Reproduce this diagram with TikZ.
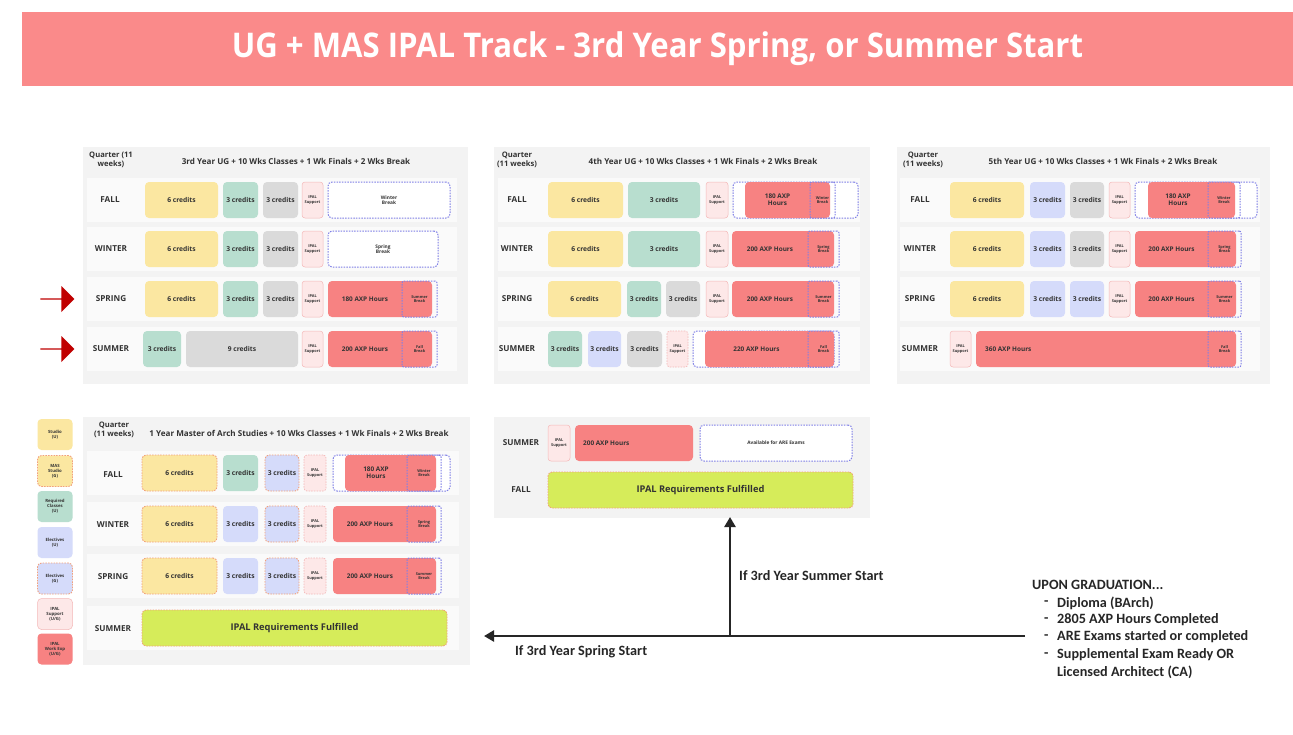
\documentclass[tikz,border=0pt]{standalone}
\usepackage{fontspec}
\setmainfont{Open Sans}
\newfontfamily\calfont{Carlito}
\usetikzlibrary{arrows.meta,shapes.arrows}
\definecolor{cyel}{HTML}{FBE7A1}
\definecolor{cteal}{HTML}{B8DECF}
\definecolor{cgrey}{HTML}{DADADA}
\definecolor{cpink}{HTML}{FDE8E8}
\definecolor{cpinkb}{HTML}{F4B8B8}
\definecolor{cred}{HTML}{F78282}
\definecolor{cblue}{HTML}{D5DBFA}
\definecolor{clime}{HTML}{D6EC5A}
\definecolor{cdash}{HTML}{7F7FE6}
\definecolor{corg}{HTML}{F2A07C}
\definecolor{cpanel}{HTML}{F3F3F3}
\definecolor{ctitle}{HTML}{FA8A8A}
\definecolor{carrow}{HTML}{C00000}
\definecolor{ctxt}{HTML}{333333}
\newcommand\bx[6]{\node[#4,minimum width={(#2-#1)*1pt}] (#6) at ({(#1+#2)/2},#3) {#5};}
% red AXP box: x1, x2, overlay start, y, hours, break text, name
\newcommand\ax[7]{%
  \bx{#1}{#2}{#4}{redb}{}{#7}
  \node[ctext] (#7t) at ({(#1+#3)/2},#4) {#5};
  \bx{#3}{#2+5}{#4}{ovl}{#6}{#7o}}
\begin{document}
\begin{tikzpicture}[x=1pt,y=-1pt,
  cell/.style={rounded corners=4pt,minimum height=36pt,inner sep=1pt,
    font=\fontsize{6.7}{7.6}\selectfont\bfseries,text=ctxt,align=center},
  ctext/.style={font=\fontsize{6.4}{7.3}\selectfont\bfseries,text=ctxt,align=center,inner sep=1pt},
  yel/.style={cell,fill=cyel},
  mas/.style={cell,fill=cyel,draw=corg,dash pattern=on 1.5pt off 1.2pt,line width=0.9pt},
  tea/.style={cell,fill=cteal},
  gry/.style={cell,fill=cgrey},
  blu/.style={cell,fill=cblue},
  blud/.style={cell,fill=cblue,draw=corg,dash pattern=on 1.5pt off 1.2pt,line width=0.9pt},
  small/.style={font=\fontsize{3.9}{4.6}\selectfont\bfseries},
  pnk/.style={cell,small,fill=cpink,draw=cpinkb,line width=0.5pt,rounded corners=3pt},
  pnkd/.style={cell,small,fill=cpink,draw=cpinkb,dash pattern=on 1.5pt off 1.2pt,line width=0.7pt,rounded corners=3pt},
  redb/.style={cell,fill=cred},
  brk/.style={cell,fill=white,draw=cdash,dash pattern=on 1.5pt off 1.2pt,line width=1pt,
    font=\fontsize{4.8}{5.6}\selectfont\bfseries},
  ovl/.style={cell,small,draw=cdash,dash pattern=on 1.5pt off 1.2pt,line width=1pt,rounded corners=2pt},
  lime/.style={cell,fill=clime,draw=corg,dash pattern=on 1.5pt off 1.2pt,line width=0.9pt,
    font=\fontsize{9.3}{10}\selectfont\bfseries},
  panel/.style={fill=cpanel,inner sep=0pt},
  band/.style={fill=white!60!cpanel,inner sep=0pt,minimum height=44pt},
  hdr/.style={font=\fontsize{8.1}{9}\selectfont\bfseries,text=ctxt},
  qtr/.style={font=\fontsize{7.6}{8.6}\selectfont\bfseries,text=ctxt,align=center},
  rl/.style={font=\fontsize{8.2}{9}\selectfont\bfseries,text=ctxt},
  leg/.style={cell,minimum height=31pt,minimum width=35pt,font=\fontsize{4.3}{5}\selectfont\bfseries},
  flow/.style={line width=2.6pt,draw=black!85,-{Triangle[length=10pt,width=11pt]}},
  note/.style={font=\calfont\bfseries\fontsize{14.2}{16}\selectfont,text=black!85,anchor=west,inner sep=0pt},
  redarrow/.style={single arrow,fill=carrow,minimum height=34pt,minimum width=26pt,
    single arrow head extend=4pt,single arrow tip angle=90,inner sep=0pt}]
\useasboundingbox (0,0) rectangle (1293,734);
\fill[white] (0,0) rectangle (1293,734);
% title
\node[fill=ctitle,minimum width=1271pt,minimum height=74pt,inner sep=0pt] (title) at (657.5,49) {};
\node[font=\fontsize{34}{38}\selectfont\bfseries,text=white] (titletxt) at (657.5,49)
  {\scalebox{0.915}[1]{UG + MAS IPAL Track - 3rd Year Spring, or Summer Start}};
% panels
\node[panel,minimum width=385pt,minimum height=237pt] (P1) at (275.5,265.5) {};
\node[panel,minimum width=376pt,minimum height=237pt] (P2) at (682,265.5) {};
\node[panel,minimum width=373pt,minimum height=237pt] (P3) at (1083.5,265.5) {};
\node[panel,minimum width=387pt,minimum height=248pt] (P4) at (276.5,541) {};
\node[panel,minimum width=376pt,minimum height=101pt] (P5) at (682,467.5) {};
% bands
\foreach \y [count=\i] in {200,249,299,349}{
  \node[band,minimum width=370pt] (b1\i) at (272,\y) {};
  \node[band,minimum width=362pt] (b2\i) at (679,\y) {};
  \node[band,minimum width=360pt] (b3\i) at (1080,\y) {};}
\foreach \y [count=\i] in {473,524,576,628}{
  \node[band,minimum width=372pt] (b4\i) at (273,\y) {};}
% ---------- Panel 1 : 3rd year ----------
\node[qtr] (q1) at (111,160) {Quarter (11\\weeks)};
\node[hdr] (h1) at (296,161) {3rd Year UG + 10 Wks Classes + 1 Wk Finals + 2 Wks Break};
\node[rl] (l11) at (110,200) {FALL};
\node[rl] (l12) at (111,249) {WINTER};
\node[rl] (l13) at (111,299) {SPRING};
\node[rl] (l14) at (111,349) {SUMMER};
\bx{145}{218}{200}{yel}{6 credits}{a11}
\bx{223}{258}{200}{tea}{3 credits}{a12}
\bx{263}{298}{200}{gry}{3 credits}{a13}
\bx{302}{323}{200}{pnk}{IPAL\\Support}{a14}
\bx{328}{450}{200}{brk}{Winter\\Break}{a15}
\bx{145}{218}{249}{yel}{6 credits}{a21}
\bx{223}{258}{249}{tea}{3 credits}{a22}
\bx{263}{298}{249}{gry}{3 credits}{a23}
\bx{302}{323}{249}{pnk}{IPAL\\Support}{a24}
\bx{328}{438}{249}{brk}{Spring\\Break}{a25}
\bx{145}{218}{299}{yel}{6 credits}{a31}
\bx{223}{258}{299}{tea}{3 credits}{a32}
\bx{263}{298}{299}{gry}{3 credits}{a33}
\bx{302}{323}{299}{pnk}{IPAL\\Support}{a34}
\ax{328}{432}{402}{299}{180 AXP Hours}{Summer\\Break}{a35}
\bx{143}{181}{349}{tea}{3 credits}{a41}
\bx{186}{298}{349}{gry}{9 credits}{a42}
\bx{302}{323}{349}{pnk}{IPAL\\Support}{a43}
\ax{328}{432}{402}{349}{200 AXP Hours}{Fall\\Break}{a44}
\node[redarrow] (ra1) at (57,299) {};
\node[redarrow] (ra2) at (57,349) {};
% ---------- Panel 2 : 4th year ----------
\node[qtr] (q2) at (517,160) {Quarter\\(11 weeks)};
\node[hdr] (h2) at (703,161) {4th Year UG + 10 Wks Classes + 1 Wk Finals + 2 Wks Break};
\node[rl] (l21) at (517,200) {FALL};
\node[rl] (l22) at (517,249) {WINTER};
\node[rl] (l23) at (517,299) {SPRING};
\node[rl] (l24) at (517,349) {SUMMER};
\bx{548}{623}{200}{yel}{6 credits}{c11}
\bx{628}{700}{200}{tea}{3 credits}{c12}
\bx{706}{728}{200}{pnk}{IPAL\\Support}{c13}
\bx{733}{858}{200}{brk}{}{c14}
\ax{745}{830}{810}{200}{180 AXP\\Hours}{Winter\\Break}{c15}
\bx{548}{623}{249}{yel}{6 credits}{c21}
\bx{628}{700}{249}{tea}{3 credits}{c22}
\bx{706}{728}{249}{pnk}{IPAL\\Support}{c23}
\ax{732}{834}{808}{249}{200 AXP Hours}{Spring\\Break}{c24}
\bx{548}{621}{299}{yel}{6 credits}{c31}
\bx{627}{661}{299}{tea}{3 credits}{c32}
\bx{666}{700}{299}{gry}{3 credits}{c33}
\bx{706}{728}{299}{pnk}{IPAL\\Support}{c34}
\ax{732}{834}{808}{299}{200 AXP Hours}{Summer\\Break}{c35}
\bx{548}{582}{349}{tea}{3 credits}{c41}
\bx{588}{621}{349}{blu}{3 credits}{c42}
\bx{627}{662}{349}{gry}{3 credits}{c43}
\bx{667}{688}{349}{pnkd}{IPAL\\Support}{c44}
\bx{693}{834}{349}{brk}{}{c45}
\ax{705}{834}{808}{349}{220 AXP Hours}{Fall\\Break}{c46}
% ---------- Panel 3 : 5th year ----------
\node[qtr] (q3) at (923,160) {Quarter\\(11 weeks)};
\node[hdr] (h3) at (1103,161) {5th Year UG + 10 Wks Classes + 1 Wk Finals + 2 Wks Break};
\node[rl] (l31) at (920,200) {FALL};
\node[rl] (l32) at (920,249) {WINTER};
\node[rl] (l33) at (920,299) {SPRING};
\node[rl] (l34) at (920,349) {SUMMER};
\bx{950}{1024}{200}{yel}{6 credits}{d11}
\bx{1030}{1065}{200}{blu}{3 credits}{d12}
\bx{1070}{1104}{200}{gry}{3 credits}{d13}
\bx{1109}{1130}{200}{pnk}{IPAL\\Support}{d14}
\bx{1135}{1257}{200}{brk}{}{d15}
\ax{1148}{1235}{1208}{200}{180 AXP\\Hours}{Winter\\Break}{d16}
\bx{950}{1024}{249}{yel}{6 credits}{d21}
\bx{1030}{1065}{249}{blu}{3 credits}{d22}
\bx{1070}{1104}{249}{gry}{3 credits}{d23}
\bx{1109}{1130}{249}{pnk}{IPAL\\Support}{d24}
\ax{1135}{1236}{1208}{249}{200 AXP Hours}{Spring\\Break}{d25}
\bx{950}{1024}{299}{yel}{6 credits}{d31}
\bx{1030}{1065}{299}{blu}{3 credits}{d32}
\bx{1070}{1104}{299}{blu}{3 credits}{d33}
\bx{1109}{1130}{299}{pnk}{IPAL\\Support}{d34}
\ax{1135}{1236}{1208}{299}{200 AXP Hours}{Summer\\Break}{d35}
\bx{950}{971}{349}{pnk}{IPAL\\Support}{d41}
\bx{976}{1236}{349}{redb}{}{d42}
\node[ctext,anchor=west] (d42t) at (984,349) {360 AXP Hours};
\bx{1208}{1241}{349}{ovl}{Fall\\Break}{d43}
% ---------- Panel 4 : MAS ----------
\node[qtr] (q4) at (114,430) {Quarter\\(11 weeks)};
\node[hdr] (h4) at (299,433) {1 Year Master of Arch Studies + 10 Wks Classes + 1 Wk Finals + 2 Wks Break};
\node[rl] (l41) at (113,475) {FALL};
\node[rl] (l42) at (113,525) {WINTER};
\node[rl] (l43) at (113,577) {SPRING};
\node[rl] (l44) at (113,629) {SUMMER};
\bx{142}{217}{473}{mas}{6 credits}{e11}
\bx{223}{258}{473}{tea}{3 credits}{e12}
\bx{265}{299}{473}{blud}{3 credits}{e13}
\bx{304}{326}{473}{pnkd}{IPAL\\Support}{e14}
\bx{333}{450}{473}{brk}{}{e15}
\ax{345}{436}{407}{473}{180 AXP\\Hours}{Winter\\Break}{e16}
\bx{142}{217}{524}{mas}{6 credits}{e21}
\bx{223}{258}{524}{blu}{3 credits}{e22}
\bx{265}{299}{524}{blud}{3 credits}{e23}
\bx{304}{326}{524}{pnkd}{IPAL\\Support}{e24}
\ax{333}{436}{407}{524}{200 AXP Hours}{Spring\\Break}{e25}
\bx{142}{217}{576}{mas}{6 credits}{e31}
\bx{223}{258}{576}{blu}{3 credits}{e32}
\bx{265}{299}{576}{blud}{3 credits}{e33}
\bx{304}{326}{576}{pnkd}{IPAL\\Support}{e34}
\ax{333}{436}{407}{576}{200 AXP Hours}{Summer\\Break}{e35}
\bx{142}{447}{628}{lime}{IPAL Requirements Fulfilled}{e41}
% legend
\node[leg,fill=cyel] (g1) at (55,434.5) {Studio\\(U)};
\node[leg,fill=cyel,draw=corg,dash pattern=on 1.5pt off 1.2pt,line width=0.9pt] (g2) at (55,471) {MAS\\Studio\\(G)};
\node[leg,fill=cteal] (g3) at (55,506.5) {Required\\Classes\\(U)};
\node[leg,fill=cblue] (g4) at (55,542.5) {Electives\\(U)};
\node[leg,fill=cblue,draw=corg,dash pattern=on 1.5pt off 1.2pt,line width=0.9pt] (g5) at (55,578.5) {Electives\\(G)};
\node[leg,fill=cpink,draw=cpinkb,line width=0.5pt] (g6) at (55,614) {IPAL\\Support\\(U/G)};
\node[leg,fill=cred] (g7) at (55,649) {IPAL\\Work Exp\\(U/G)};
% ---------- Panel 5 : final summer/fall ----------
\node[rl] (l51) at (521,443) {SUMMER};
\node[rl] (l52) at (521,490) {FALL};
\bx{548}{570}{443}{pnk}{IPAL\\Support}{f11}
\bx{575}{693}{443}{redb}{}{f12}
\node[ctext,anchor=west] (f12t) at (582,443) {200 AXP Hours};
\bx{700}{852}{443}{brk}{Available for ARE Exams}{f13}
\bx{548}{853}{490}{lime}{IPAL Requirements Fulfilled}{f21}
% ---------- connectors ----------
\coordinate (start) at (1025,636);
\coordinate (junc) at (730,636);
\coordinate (leftend) at (484,636);
\coordinate (upend) at (730,517);
\draw[flow] (start) -- (leftend);
\draw[flow] (junc) -- (upend);
\node[note] (lab1) at (739,576) {If 3rd Year Summer Start};
\node[note] (lab2) at (515,652) {If 3rd Year Spring Start};
% graduation notes
\node[note] (grad) at (1032,585) {UPON GRADUATION...};
\foreach \t/\y [count=\i] in {Diploma (BArch)/603,2805 AXP Hours Completed/620,ARE Exams started or completed/637,Supplemental Exam Ready OR/655}{
  \node[note] (gd\i) at (1044,\y) {-};
  \node[note] (gi\i) at (1057,\y) {\t};}
\node[note] (gi5) at (1057,672) {Licensed Architect (CA)};
\end{tikzpicture}
\end{document}
